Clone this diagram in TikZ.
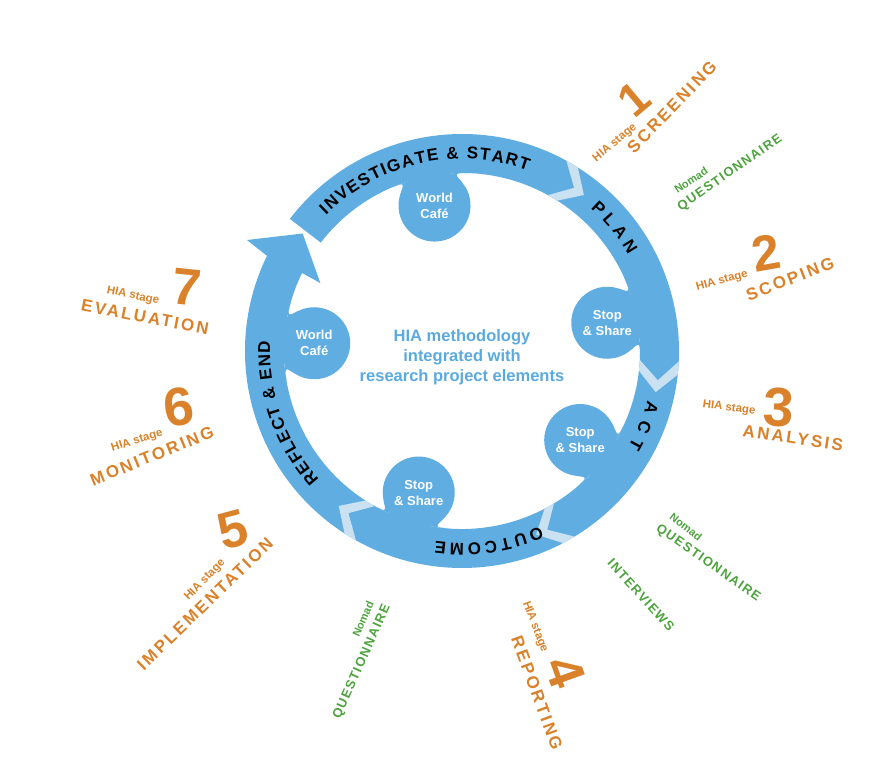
\documentclass[tikz,border=0pt]{standalone}
\usepackage{fontspec}
\setmainfont{Liberation Sans}
\newfontfamily\lsfont{Liberation Sans}[LetterSpace=14]
\newfontfamily\qfont{Liberation Sans}[LetterSpace=10]
\usetikzlibrary{decorations.text}
\definecolor{ringblue}{HTML}{60ADE2}
\definecolor{chev}{HTML}{C9E1F0}
\definecolor{stageorange}{HTML}{D9822B}
\definecolor{toolgreen}{HTML}{4EA33E}
\definecolor{midblue}{HTML}{5BAADF}
\newcommand{\ringfnt}{\bfseries\fontsize{17}{17}\selectfont}
\tikzset{
  stagesmall/.style={text=stageorange, font=\bfseries\fontsize{11.5}{12}\selectfont, inner sep=0pt},
  stagenum/.style={text=stageorange, font=\bfseries\fontsize{#1}{#1}\selectfont, inner sep=0pt},
  stagename/.style={text=stageorange, font=\lsfont\bfseries\fontsize{17}{18}\selectfont, inner sep=0pt},
  nomadtxt/.style={text=toolgreen, font=\bfseries\fontsize{11}{12}\selectfont, inner sep=0pt},
  questtxt/.style={text=toolgreen, font=\qfont\bfseries\fontsize{13}{14}\selectfont, inner sep=0pt},
  bubble/.style={circle, fill=ringblue, minimum size=72pt, inner sep=0pt, text=white,
    font=\bfseries\fontsize{13}{16}\selectfont, align=center},
  centertext/.style={text=midblue, font=\bfseries\fontsize{16.5}{20}\selectfont, align=center},
  ringtext/.style={decorate, decoration={text along path, text align=fit to path,
    text={|\ringfnt|#1}}},
}
\begin{document}
\begin{tikzpicture}[x=1pt,y=1pt]
\useasboundingbox (0,0) rectangle (876,776);
\begin{scope}[shift={(462,425)}]
  \coordinate (C) at (0,0);
  % ring with arrowhead
  \fill[ringblue] (142.5:217) arc[start angle=142.5, end angle=-206, radius=217]
    -- (152.7:242) -- (143.6:198) -- (154.4:157) -- (-206:178)
    arc[start angle=-206, end angle=142.5, radius=178] -- cycle;
  % chevrons
  \begin{scope}
    \clip (142.5:217) arc[start angle=142.5, end angle=-206, radius=217]
      -- (-206:178) arc[start angle=-206, end angle=142.5, radius=178] -- cycle;
    \foreach \p in {62.5,-1.5,-57.5,-118}
      \fill[chev] (\p:222) -- ({\p-7}:198) -- (\p:174) -- ({\p-3.5}:174)
        -- ({\p-10.5}:198) -- ({\p-3.5}:222) -- cycle;
  \end{scope}
  % bubble necks (fillets joining the bubbles to the ring)
  \foreach \a in {100.7,177,11,-37,-107}
    \fill[ringblue, rotate=\a] (13:178) .. controls (176.3,25.3) .. (166,31.2)
      -- (166,-31.2) .. controls (176.3,-25.3) .. (-13:178)
      arc[start angle=-13, end angle=13, radius=178] -- cycle;
  % bubbles
  \node[bubble] (wcA) at (100.7:148) {World\\Café};
  \node[bubble] (wcB) at (177:148) {World\\Café};
  \node[bubble] (ssA) at (11:148) {Stop\\\& Share};
  \node[bubble] (ssB) at (-37:148) {Stop\\\& Share};
  \node[bubble] (ssC) at (-107:148) {Stop\\\& Share};
  % centre text
  \node[centertext] (mid) at (0,-6) {HIA methodology\\integrated with\\research project elements};
  % ring texts
  \path[ringtext={INVESTIGATE {\&} START}] (135:192) arc[start angle=135, end angle=70, radius=192];
  \path[ringtext={PLAN}] (48:192) arc[start angle=48, end angle=30, radius=192];
  \path[ringtext={ACT}] (-15:192) arc[start angle=-15, end angle=-30, radius=192];
  \path[ringtext={OUTCOME}] (-66:192) arc[start angle=-66, end angle=-98, radius=192];
  \path[ringtext={REFLECT {\&} END}] (222:192) arc[start angle=222, end angle=177, radius=192];
\end{scope}
% stage 1
\node[stagesmall, rotate=40] (h1) at (615,633) {HIA stage};
\node[stagenum=46, rotate=40] (n1) at (634,677) {1};
\node[stagename, rotate=46] (s1) at (672,669) {SCREENING};
\node[nomadtxt, rotate=33] (q1a) at (691,596) {Nomad};
\node[questtxt, rotate=35] (q1b) at (730,603) {QUESTIONNAIRE};
% stage 2
\node[stagesmall, rotate=15] (h2) at (722,495) {HIA stage};
\node[stagenum=50, rotate=10] (n2) at (766,523) {2};
\node[stagename, rotate=21] (s2) at (790,497) {SCOPING};
% stage 3
\node[stagesmall, rotate=-8] (h3) at (729,368) {HIA stage};
\node[stagenum=55, rotate=-3] (n3) at (779,369) {3};
\node[stagename, rotate=-8.6] (s3) at (793,338) {ANALYSIS};
% stage 4
\node[stagesmall, rotate=-69] (h4) at (535,149) {HIA stage};
\node[stagenum=52, rotate=-70] (n4) at (565,104) {4};
\node[stagename, rotate=-70] (s4) at (537,83) {REPORTING};
\node[nomadtxt, rotate=-38] (q4a) at (686,249) {Nomad};
\node[questtxt, rotate=-35] (q4b) at (708,213) {QUESTIONNAIRE};
\node[questtxt, rotate=-48] (iv) at (641,181) {INTERVIEWS};
% stage 5
\node[stagesmall, rotate=46] (h5) at (205,196) {HIA stage};
\node[stagenum=52, rotate=15] (n5) at (233,246) {5};
\node[stagename, rotate=44] (s5) at (205,172) {IMPLEMENTATION};
\node[nomadtxt, rotate=66] (q5a) at (363,157) {Nomad};
\node[questtxt, rotate=66] (q5b) at (362,114) {QUESTIONNAIRE};
% stage 6
\node[stagesmall, rotate=17] (h6) at (137,335) {HIA stage};
\node[stagenum=54, rotate=8] (n6) at (179,369) {6};
\node[stagename, rotate=22] (s6) at (152,320) {MONITORING};
% stage 7
\node[stagesmall, rotate=-12] (h7) at (133,480) {HIA stage};
\node[stagenum=52, rotate=-6] (n7) at (187,489) {7};
\node[stagename, rotate=-11] (s7) at (145,459) {EVALUATION};
\end{tikzpicture}
\end{document}
